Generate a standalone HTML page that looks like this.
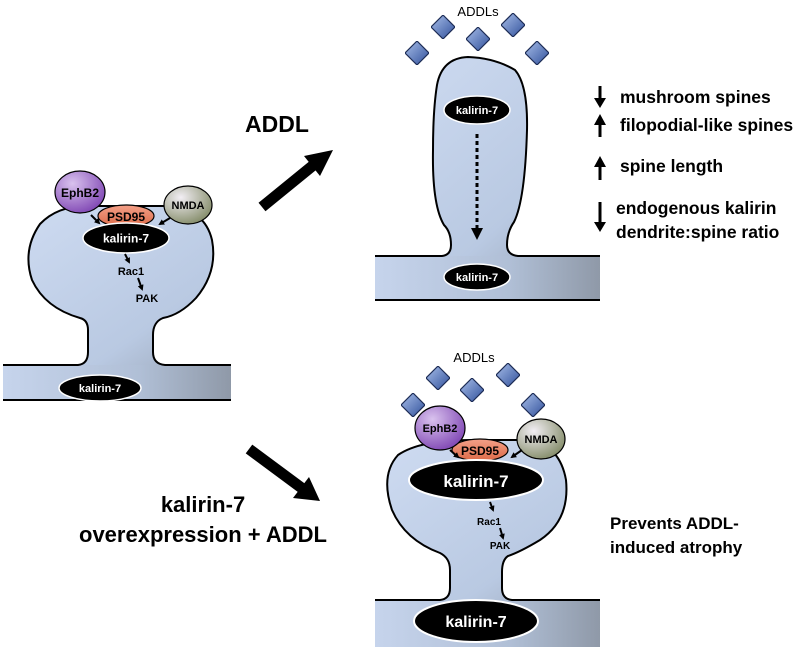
<!DOCTYPE html>
<html><head><meta charset="utf-8"><style>
html,body{margin:0;padding:0;background:#fff}
svg{display:block}
text{font-family:"Liberation Sans",Arial,sans-serif}
</style></head><body>
<svg width="800" height="647" viewBox="0 0 800 647" xmlns="http://www.w3.org/2000/svg">
<defs>
<linearGradient id="bg" x1="0" y1="0" x2="1" y2="1">
<stop offset="0" stop-color="#cfdcf2"/><stop offset="0.7" stop-color="#b9c9e2"/><stop offset="1" stop-color="#9aa6b8"/>
</linearGradient>
<linearGradient id="dg" x1="0" y1="0" x2="1" y2="0">
<stop offset="0" stop-color="#c6d4ec"/><stop offset="0.6" stop-color="#b0bfd6"/><stop offset="1" stop-color="#8f99a8"/>
</linearGradient>
<linearGradient id="dia" x1="0" y1="0" x2="1" y2="1">
<stop offset="0" stop-color="#aac0ea"/><stop offset="1" stop-color="#2f4f9a"/>
</linearGradient>
<radialGradient id="eph" cx="0.35" cy="0.3" r="0.8">
<stop offset="0" stop-color="#d9c2ee"/><stop offset="1" stop-color="#7a3fb0"/>
</radialGradient>
<radialGradient id="nmda" cx="0.35" cy="0.3" r="0.8">
<stop offset="0" stop-color="#f2eef4"/><stop offset="1" stop-color="#7d8660"/>
</radialGradient>
<linearGradient id="psd" x1="0" y1="0" x2="0" y2="1">
<stop offset="0" stop-color="#f4a088"/><stop offset="1" stop-color="#dc6a48"/>
</linearGradient>
<marker id="ah" markerWidth="6" markerHeight="6" refX="4" refY="3" orient="auto" markerUnits="userSpaceOnUse">
<path d="M0,0 L6,3 L0,6 z" fill="#000"/>
</marker>
<symbol id="d" viewBox="-10 -10 20 20"><path d="M0,-10 L10,0 L0,10 L-10,0 z" fill="url(#dia)" stroke="#1d2c55" stroke-width="1"/></symbol>
</defs>

<!-- LEFT SPINE -->
<rect x="3" y="365" width="228" height="35" fill="url(#dg)"/>
<path d="M3,365 L78,365 Q88,364 88,352 L88,330 Q88,320 80,318 Q45,308 32,280 Q22,250 40,224 Q58,205 90,206 L170,206 Q205,210 212,240 Q218,272 196,298 Q180,315 163,318 Q153,322 153,335 L153,352 Q153,364 165,365 L231,365" fill="url(#bg)" stroke="#000" stroke-width="2"/>
<line x1="3" y1="400" x2="231" y2="400" stroke="#000" stroke-width="2"/>
<ellipse cx="126" cy="216" rx="28" ry="11" fill="url(#psd)" stroke="#000" stroke-width="1.2"/>
<text x="126" y="221" font-size="12" font-weight="bold" text-anchor="middle">PSD95</text>
<ellipse cx="80" cy="192" rx="25" ry="21" fill="url(#eph)" stroke="#000" stroke-width="1.2"/>
<text x="80" y="197" font-size="12" font-weight="bold" text-anchor="middle">EphB2</text>
<ellipse cx="188" cy="205" rx="24" ry="19" fill="url(#nmda)" stroke="#000" stroke-width="1.2"/>
<text x="188" y="209" font-size="11" font-weight="bold" text-anchor="middle">NMDA</text>
<ellipse cx="126" cy="238" rx="43" ry="15" fill="#000" stroke="#fff" stroke-width="1.5"/>
<text x="126" y="242.5" font-size="12" font-weight="bold" fill="#fff" text-anchor="middle">kalirin-7</text>
<line x1="91" y1="215" x2="99" y2="223" stroke="#000" stroke-width="2" marker-end="url(#ah)"/>
<line x1="170" y1="218" x2="160" y2="224" stroke="#000" stroke-width="2" marker-end="url(#ah)"/>
<line x1="125" y1="254" x2="129" y2="262" stroke="#000" stroke-width="2" marker-end="url(#ah)"/>
<text x="131" y="275" font-size="11" font-weight="bold" text-anchor="middle">Rac1</text>
<line x1="138" y1="278" x2="142" y2="289" stroke="#000" stroke-width="2" marker-end="url(#ah)"/>
<text x="147" y="302" font-size="11" font-weight="bold" text-anchor="middle">PAK</text>
<ellipse cx="100" cy="388" rx="41" ry="13" fill="#000" stroke="#fff" stroke-width="1.5"/>
<text x="100" y="392" font-size="11" font-weight="bold" fill="#fff" text-anchor="middle">kalirin-7</text>

<!-- big arrows -->
<line x1="262" y1="207" x2="316" y2="163" stroke="#000" stroke-width="11"/>
<path d="M333,150 L304,156 L320,176 z" fill="#000"/>
<line x1="249" y1="449" x2="303" y2="489" stroke="#000" stroke-width="11"/>
<path d="M320,501 L293,498 L309,477 z" fill="#000"/>
<text x="277" y="132" font-size="23" font-weight="bold" text-anchor="middle">ADDL</text>
<text x="203" y="512" font-size="22" font-weight="bold" text-anchor="middle">kalirin-7</text>
<text x="203" y="542" font-size="22" font-weight="bold" text-anchor="middle">overexpression + ADDL</text>

<!-- TOP RIGHT SPINE -->
<text x="478" y="16" font-size="13" text-anchor="middle">ADDLs</text>
<use href="#d" x="405" y="41" width="24" height="24"/>
<use href="#d" x="431" y="15" width="24" height="24"/>
<use href="#d" x="466" y="27" width="24" height="24"/>
<use href="#d" x="501" y="13" width="24" height="24"/>
<use href="#d" x="525" y="41" width="24" height="24"/>
<rect x="375" y="256" width="225" height="44" fill="url(#dg)"/>
<path d="M375,256 L442,256 Q451,255 451,245 Q451,232 444,225 Q432,205 433,150 Q433,110 437,85 Q442,58 468,57 Q495,58 515,70 Q528,85 527,130 Q525,200 514,222 Q507,232 507,245 Q507,255 518,256 L600,256" fill="url(#bg)" stroke="#000" stroke-width="2"/>
<line x1="375" y1="300" x2="600" y2="300" stroke="#000" stroke-width="2"/>
<ellipse cx="477" cy="110" rx="33" ry="14" fill="#000" stroke="#fff" stroke-width="1.5"/>
<text x="477" y="114" font-size="11" font-weight="bold" fill="#fff" text-anchor="middle">kalirin-7</text>
<line x1="477" y1="134" x2="477" y2="228" stroke="#000" stroke-width="3" stroke-dasharray="4,3"/>
<path d="M471,228 L483,228 L477,240 z" fill="#000"/>
<ellipse cx="477" cy="277" rx="33" ry="13" fill="#000" stroke="#fff" stroke-width="1.5"/>
<text x="477" y="281" font-size="11" font-weight="bold" fill="#fff" text-anchor="middle">kalirin-7</text>

<!-- effects list -->
<g stroke="#000" stroke-width="3">
<line x1="600" y1="86" x2="600" y2="100"/><line x1="600" y1="123" x2="600" y2="137"/>
<line x1="600" y1="165" x2="600" y2="180"/><line x1="600" y1="202" x2="600" y2="224"/>
</g>
<path d="M594,98 L606,98 L600,108 z M594,125 L606,125 L600,114 z M594,167 L606,167 L600,156 z M594,222 L606,222 L600,232 z" fill="#000"/>
<g font-size="17.5" font-weight="bold">
<text x="620" y="103">mushroom spines</text>
<text x="620" y="131">filopodial-like spines</text>
<text x="620" y="172">spine length</text>
<text x="616" y="214">endogenous kalirin</text>
<text x="616" y="238">dendrite:spine ratio</text>
<text x="610" y="529" font-size="17">Prevents ADDL-</text>
<text x="610" y="553" font-size="17">induced atrophy</text>
</g>

<!-- BOTTOM RIGHT SPINE -->
<text x="474" y="362" font-size="13" text-anchor="middle">ADDLs</text>
<use href="#d" x="401" y="393" width="24" height="24"/>
<use href="#d" x="426" y="366" width="24" height="24"/>
<use href="#d" x="460" y="378" width="24" height="24"/>
<use href="#d" x="496" y="363" width="24" height="24"/>
<use href="#d" x="521" y="393" width="24" height="24"/>
<rect x="375" y="600" width="225" height="47" fill="url(#dg)"/>
<path d="M375,600 L440,600 Q450,599 450,588 L450,570 Q450,558 440,553 Q405,540 392,510 Q380,475 398,455 Q420,440 470,440 L530,440 Q560,446 566,480 Q570,520 540,540 Q520,552 508,556 Q502,560 502,572 L502,588 Q502,599 512,600 L600,600" fill="url(#bg)" stroke="#000" stroke-width="2"/>
<ellipse cx="480" cy="450" rx="28" ry="11" fill="url(#psd)" stroke="#000" stroke-width="1.2"/>
<text x="480" y="455" font-size="12" font-weight="bold" text-anchor="middle">PSD95</text>
<ellipse cx="440" cy="428" rx="25" ry="22" fill="url(#eph)" stroke="#000" stroke-width="1.2"/>
<text x="440" y="432" font-size="11" font-weight="bold" text-anchor="middle">EphB2</text>
<ellipse cx="541" cy="439" rx="24" ry="20" fill="url(#nmda)" stroke="#000" stroke-width="1.2"/>
<text x="541" y="443" font-size="11" font-weight="bold" text-anchor="middle">NMDA</text>
<ellipse cx="476" cy="480" rx="67" ry="20" fill="#000" stroke="#fff" stroke-width="2"/>
<text x="476" y="487" font-size="17" font-weight="bold" fill="#fff" text-anchor="middle">kalirin-7</text>
<line x1="450" y1="450" x2="458" y2="457" stroke="#000" stroke-width="2" marker-end="url(#ah)"/>
<line x1="522" y1="450" x2="512" y2="457" stroke="#000" stroke-width="2" marker-end="url(#ah)"/>
<line x1="490" y1="502" x2="493" y2="510" stroke="#000" stroke-width="2" marker-end="url(#ah)"/>
<text x="489" y="525" font-size="10" font-weight="bold" text-anchor="middle">Rac1</text>
<line x1="500" y1="528" x2="503" y2="538" stroke="#000" stroke-width="2" marker-end="url(#ah)"/>
<text x="500" y="549" font-size="10" font-weight="bold" text-anchor="middle">PAK</text>
<ellipse cx="476" cy="621" rx="62" ry="21" fill="#000" stroke="#fff" stroke-width="2"/>
<text x="476" y="627" font-size="16" font-weight="bold" fill="#fff" text-anchor="middle">kalirin-7</text>
</svg>
</body></html>
